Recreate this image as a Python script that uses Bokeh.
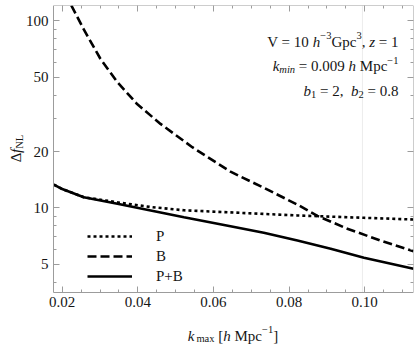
import math
from bokeh.plotting import figure
from bokeh.models import (FixedTicker, Label, Legend, LegendItem, LinearAxis, LogAxis,
                          Range1d, PrintfTickFormatter)
from bokeh.embed import file_html
from bokeh.resources import INLINE

# ---------------- data ----------------
k_B = [0.0210, 0.0224, 0.0257, 0.0301, 0.0346, 0.0398, 0.0460, 0.0544, 0.0645,
       0.0733, 0.0822, 0.0875, 0.0954, 0.1042, 0.1129]
B = [140.0, 121.0, 90.0, 62.7, 47.0, 35.9, 28.1, 21.1, 15.6,
     12.8, 10.4, 9.05, 7.73, 6.68, 5.86]

k_P = [0.0178, 0.0200, 0.0257, 0.0346, 0.0434, 0.0522, 0.0645, 0.0822, 0.0998, 0.1129]
P = [13.3, 12.6, 11.4, 10.7, 10.1, 9.7, 9.45, 9.1, 8.84, 8.66]

k_PB = [0.0178, 0.0200, 0.0257, 0.0346, 0.0434, 0.0522, 0.0645, 0.0733, 0.0822,
        0.0910, 0.0998, 0.1129]
PB = [13.3, 12.6, 11.4, 10.5, 9.67, 8.91, 7.97, 7.35, 6.68, 6.04, 5.41, 4.72]

x_major = [0.02, 0.04, 0.06, 0.08, 0.10]
x_labels = ["0.02", "0.04", "0.06", "0.08", "0.10"]
x_minor = [0.020, 0.025, 0.030, 0.035, 0.040, 0.045, 0.050, 0.055, 0.060, 0.065,
           0.070, 0.075, 0.080, 0.085, 0.090, 0.095, 0.100, 0.105, 0.110]
y_major = [5, 10, 20, 50, 100]
y_labels = ["5", "10", "20", "50", "100"]
y_minor = [4, 5, 6, 7, 8, 9, 10, 20, 30, 40, 50, 60, 70, 80, 90, 100]

legend_labels = ["P", "B", "P+B"]
faint_line_k = 0.0994

# plotted box (axis limits) and the wider drawing area that also holds the axis titles
X_LIM = (0.0177, 0.1129)
Y_LIM = (3.54, 120.8)
X_VIEW = (0.00368, 0.1129)
Y_VIEW = (1.79, 120.8)

# ---------------- layout ----------------
W, H = 419, 347
FL, FT, FR, FB = 0, 5, 413, 347   # drawing frame in page pixels
FONT = "Liberation Serif"
GRAY = "#9c9c9c"
TXT = "#151515"

p = figure(width=W, height=H, x_range=Range1d(*X_VIEW), y_range=Range1d(*Y_VIEW),
           y_axis_type="log", x_axis_location=None, y_axis_location=None,
           output_backend="svg", toolbar_location=None,
           min_border_left=FL, min_border_right=W - FR, min_border_top=FT,
           min_border_bottom=H - FB,
           background_fill_color="white", border_fill_color="white")
p.grid.visible = False
p.outline_line_color = None

p.segment(x0=[faint_line_k], y0=[Y_LIM[0]], x1=[faint_line_k], y1=[Y_LIM[1]],
          line_color="#ececec", line_width=1)

r_P = p.line(k_P, P, line_color="black", line_width=2.6, line_dash="3 3")
r_B = p.line(k_B, B, line_color="black", line_width=2.6, line_dash="9 4")
r_PB = p.line(k_PB, PB, line_color="black", line_width=2.6)

def style(ax, labels=True):
    ax.axis_line_color = GRAY
    ax.major_tick_line_color = GRAY
    ax.minor_tick_line_color = GRAY
    ax.major_tick_in = 6
    ax.major_tick_out = 0
    ax.minor_tick_in = 3
    ax.minor_tick_out = 0
    ax.major_label_text_font = FONT
    ax.major_label_text_color = TXT
    if labels:
        ax.major_label_text_font_size = "15px"
        ax.major_label_standoff = 5
    else:
        ax.major_label_text_font_size = "0px"
        ax.major_label_standoff = 0

xa = LinearAxis(ticker=FixedTicker(ticks=x_major, minor_ticks=x_minor),
                formatter=PrintfTickFormatter(format="%.2f"),
                major_label_overrides=dict(zip(x_major, x_labels)),
                fixed_location=Y_LIM[0], bounds=X_LIM)
style(xa)
p.add_layout(xa, "below")
ya = LogAxis(ticker=FixedTicker(ticks=y_major, minor_ticks=y_minor),
             formatter=PrintfTickFormatter(format="%d"),
             major_label_overrides=dict(zip(y_major, y_labels)),
             fixed_location=X_LIM[0], bounds=Y_LIM)
style(ya)
p.add_layout(ya, "left")

top = LinearAxis(ticker=FixedTicker(ticks=x_major, minor_ticks=x_minor),
                 fixed_location=Y_LIM[1], bounds=X_LIM)
style(top, labels=False)
p.add_layout(top, "above")
right = LogAxis(ticker=FixedTicker(ticks=y_major, minor_ticks=y_minor),
                fixed_location=X_LIM[1], bounds=Y_LIM)
style(right, labels=False)
p.add_layout(right, "right")

legend = Legend(items=[LegendItem(label=legend_labels[0], renderers=[r_P]),
                       LegendItem(label=legend_labels[1], renderers=[r_B]),
                       LegendItem(label=legend_labels[2], renderers=[r_PB])],
                location=(87, 61), padding=0, margin=0, spacing=0,
                glyph_width=45, glyph_height=20, label_height=20, label_standoff=24,
                label_text_font=FONT, label_text_font_size="15px", label_text_color=TXT,
                label_text_align="center",
                border_line_color=None, background_fill_alpha=0)
p.add_layout(legend)

# ---------------- composed texts ----------------
W_REG = {' ': 250, ',': 250, '.': 250, '=': 564, '+': 564, '\u2212': 564, '[': 333, ']': 333,
         'V': 722, 'G': 722, 'M': 889, 'P': 556, 'B': 667, 'p': 500, 'c': 444, 'a': 444,
         'x': 500, 'm': 778, 'N': 722, 'L': 611, '\u0394': 612}
W_IT = {'h': 500, 'z': 389, 'k': 444, 'm': 722, 'i': 278, 'n': 500, 'b': 500, 'f': 278}

def width(t, it, size):
    tab = W_IT if it else W_REG
    return sum(tab.get(c, 500) for c in t) * size / 1000.0

def place(pieces, x0, base, size=15, align="left", angle=0.0):
    """pieces: (text, italic, scale, dy_em). x0/base in page px.
    'screen' labels are relative to the frame's bottom-left corner.
    Leading spaces become offsets (SVG collapses them)."""
    ws = [width(t, it, size * sc) for (t, it, sc, dy) in pieces]
    tot = sum(ws)
    if align == "right":
        x0 = x0 - tot
    elif align == "center":
        x0 = x0 - tot / 2.0
    pos = x0
    for (t, it, sc, dy), w in zip(pieces, ws):
        fs = size * sc
        lead = (len(t) - len(t.lstrip(" "))) * 250 * fs / 1000.0
        txt = t.strip(" ")
        if txt:
            if angle == 0.0:
                cx = pos + lead - FL
                cy = FB - base + dy * size
            else:
                cx = base - dy * size - FL
                cy = FB - (pos - lead)
            p.add_layout(Label(x=cx, y=cy, x_units="screen", y_units="screen", text=txt,
                               text_font=FONT, text_font_style="italic" if it else "normal",
                               text_font_size=f"{fs:.1f}px", text_color=TXT,
                               text_baseline="alphabetic", text_align="left", angle=angle))
        pos += w if angle == 0.0 else -w

N, I = False, True
place([("V = 10 ", N, 1, 0), ("h", I, 1, 0), ("\u22123", N, 0.7, 0.4), ("Gpc", N, 1, 0),
       ("3", N, 0.7, 0.4), (", ", N, 1, 0), ("z", I, 1, 0), (" = 1", N, 1, 0)],
      398, 41, align="right")
place([("k", I, 1, 0), ("min", I, 0.7, -0.25), (" = 0.009 ", N, 1, 0), ("h", I, 1, 0),
       (" Mpc", N, 1, 0), ("\u22121", N, 0.7, 0.4)],
      398, 65.5, align="right")
place([("b", I, 1, 0), ("1", N, 0.7, -0.25), (" = 2,  ", N, 1, 0), ("b", I, 1, 0),
       ("2", N, 0.7, -0.25), (" = 0.8", N, 1, 0)],
      398, 90, align="right")

# x axis label
place([("k", I, 1, 0), (" ", N, 0.5, 0), ("max", N, 0.7, -0.22), (" [", N, 1, 0), ("h", I, 1, 0),
       (" Mpc", N, 1, 0), ("\u22121", N, 0.7, 0.4), ("]", N, 1, 0)],
      232.5, 335, align="center")

# y axis label (rotated)
ylab = [("\u0394", N, 1, 0), ("f", I, 1, 0), ("NL", N, 0.7, -0.2)]
ytot = sum(width(t, it, 15 * sc) for (t, it, sc, dy) in ylab)
place(ylab, 148 + ytot / 2.0, 15.5, angle=math.pi / 2)

open("out.html", "w").write(file_html(p, INLINE))
